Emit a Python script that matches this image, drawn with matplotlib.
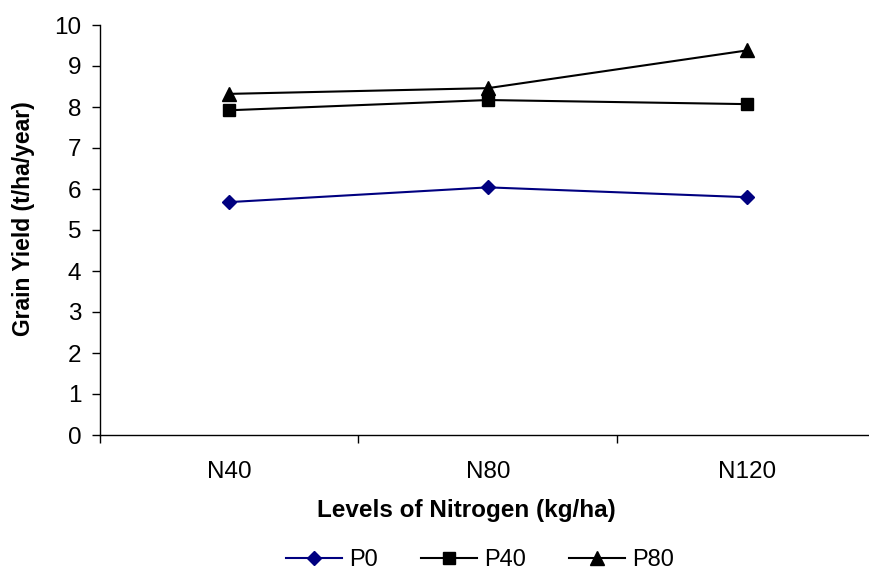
import matplotlib
matplotlib.use("Agg")
import matplotlib.pyplot as plt
import numpy as np

categories = ["N40", "N80", "N120"]
p0 = [5.68, 6.04, 5.80]
p40 = [7.92, 8.17, 8.07]
p80 = [8.32, 8.46, 9.38]
yticks = list(range(0, 11))

plt.rcParams['font.family'] = ['Liberation Sans', 'DejaVu Sans']

W, H = 869, 573
fig = plt.figure(figsize=(W/100, H/100), dpi=100)
ax = fig.add_axes([99.5/W, 138/H, 777/W, 410/H])
x = np.arange(len(categories))
ax.plot(x, p0, color='#000080', marker='D', markersize=7.5, lw=1.5, label='P0')
ax.plot(x, p40, color='black', marker='s', markersize=8, lw=1.5, label='P40')
ax.plot(x, p80, color='black', marker='^', markersize=9.5, lw=1.5, label='P80')

ax.set_xlim(-0.5, 2.5)
ax.set_ylim(0, 10)
ax.set_yticks(yticks)
ax.set_xticks(x)
ax.set_xticklabels(categories)
ax.set_xticks([-0.5, 0.5, 1.5, 2.5], minor=True)
ax.tick_params(axis='x', which='major', length=0, pad=19, labelsize=17.5)
ax.tick_params(axis='x', which='minor', length=6, width=1)
ax.tick_params(axis='y', length=6, width=1, labelsize=17.5, pad=7)
for s in ['top', 'right']:
    ax.spines[s].set_visible(False)
for s in ['left', 'bottom']:
    ax.spines[s].set_linewidth(1)

fig.text(466/W, 1 - 511/H, "Levels of Nitrogen (kg/ha)", fontsize=17.5, fontweight='bold',
         ha='center', va='center')
fig.text(24/W, 1 - 219/H, "Grain Yield (t/ha/year)", fontsize=16.5, fontweight='bold',
         ha='center', va='center', rotation=90)

leg = fig.legend(loc='center', bbox_to_anchor=(480/W, 1 - 560/H), ncol=3,
                 frameon=False, fontsize=17, handlelength=2.35, columnspacing=1.85,
                 handletextpad=0.3, borderaxespad=0, borderpad=0)
fig.savefig("out.png", dpi=100)
